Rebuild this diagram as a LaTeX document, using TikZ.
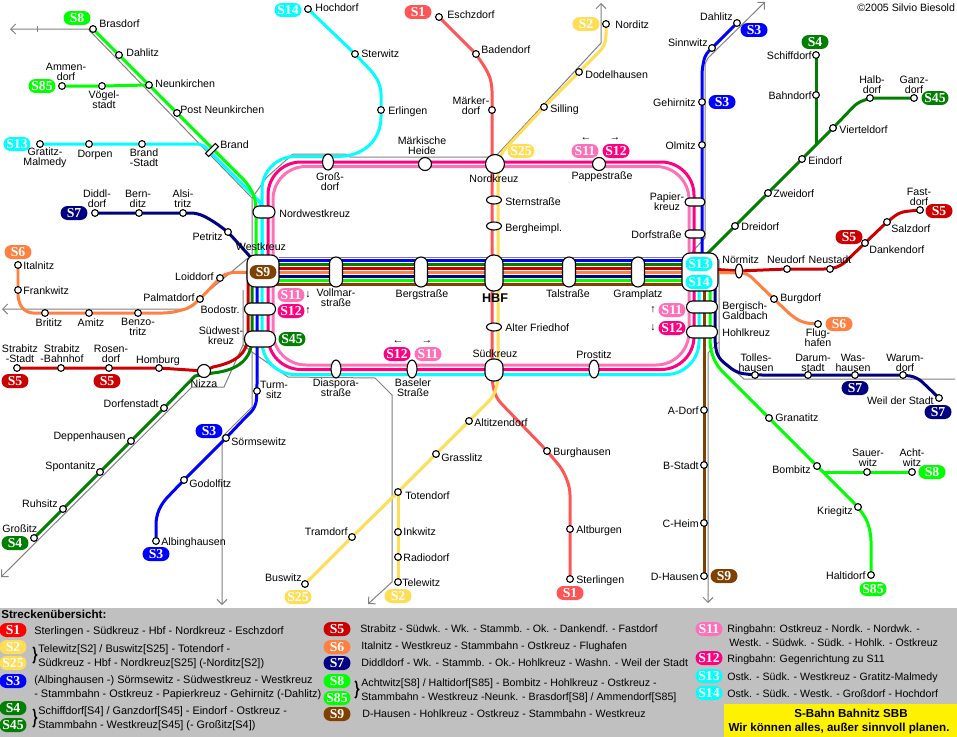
\documentclass[tikz,border=0pt]{standalone}
\usepackage{fontspec}
\setmainfont{Liberation Sans}
\newfontfamily\pillfont{Liberation Serif}
\usepackage{tikz}
\usetikzlibrary{arrows.meta,backgrounds,decorations.pathreplacing,shapes.geometric}
\definecolor{colS1}{HTML}{FF5555}
\definecolor{colS1key}{HTML}{FF0000}
\definecolor{colS2}{HTML}{FFDD55}
\definecolor{colS3}{HTML}{0000FF}
\definecolor{colS4}{HTML}{007F00}
\definecolor{colS5}{HTML}{CC0000}
\definecolor{colS6}{HTML}{FF8040}
\definecolor{colS7}{HTML}{000080}
\definecolor{colS8}{HTML}{00FF00}
\definecolor{colS9}{HTML}{804000}
\definecolor{colS11}{HTML}{FF70B8}
\definecolor{colS12}{HTML}{FF0080}
\definecolor{colS13}{HTML}{00FFFF}
\definecolor{colZone}{HTML}{808080}
\definecolor{colPanel}{HTML}{C0C0C0}
\tikzset{
  bahn/.style={line width=0.06cm,line join=round},
  zone/.style={line width=0.02cm,draw=colZone,>={Straight Barb[length=0.1cm,width=0.2cm]}},
  stn/.style={circle,draw=black,fill=white,line width=0.022cm,minimum size=0.135cm,inner sep=0pt},
  stnbig/.style={stn,minimum size=0.26cm},
  stnoval/.style={ellipse,draw=black,fill=white,line width=0.022cm,inner sep=0pt},
  stnbox/.style={rectangle,draw=black,fill=white,line width=0.022cm,inner sep=0pt},
  stnname/.style={inner sep=0pt,font=\fontsize{6.05}{5.7}\selectfont},
  stnnames/.style={stnname,align=center},
  keyname/.style={inner sep=0pt,font=\fontsize{6.2}{7}\selectfont},
  boldname/.style={inner sep=0pt,font=\fontsize{6.6}{7}\selectfont\bfseries},
  pill/.style={rectangle,rounded corners=0.14cm,minimum width=0.54cm,minimum height=0.28cm,inner sep=0pt,text=white,font=\fontsize{7.8}{8}\selectfont\pillfont\bfseries}
}
\begin{document}
\begin{tikzpicture}[x=0.02cm,y=-0.02cm]
\useasboundingbox (0,0) rectangle (957,737);
\node[stn] (brasdorf) at (93,29) {};
\node[stnname,anchor=base west] (brasdorftxt) at (99,28) {Brasdorf};
\node[stn] (dahlitz) at (119,55) {};
\node[stnname,anchor=base west] (dahlitztxt) at (126,56) {Dahlitz};
\node[stn] (neunkirchen) at (149,85) {};
\node[stnname,anchor=base west] (neunkirchentxt) at (155,87) {Neunkirchen};
\node[stn] (postneun) at (177,113) {};
\node[stnname,anchor=base west] (postneuntxt) at (180,113) {Post Neunkirchen};
\node[stnbox,rotate=45,minimum width=0.28cm,minimum height=0.09cm] (brand) at (212,150) {};
\node[stnname,anchor=base west] (brandtxt) at (220,148) {Brand};
\node[stn] (ammendorf) at (62,86) {};
\node[stnnames] (ammendorftxt) at (66,72) {Ammen-\\dorf};
\node[stn] (voegelstadt) at (102,86) {};
\node[stnnames] (voegelstadttxt) at (104,100) {Vögel-\\stadt};
\node[stn] (gratitz) at (40,144) {};
\node[stnnames] (gratitztxt) at (45,158) {Gratitz-\\Malmedy};
\node[stn] (dorpen) at (89,144) {};
\node[stnname,anchor=base] (dorpentxt) at (95,157) {Dorpen};
\node[stn] (brandstadt) at (142,144) {};
\node[stnnames] (brandstadttxt) at (144,158) {Brand\\-Stadt};
\node[stn] (diddldorf) at (95,213) {};
\node[stnnames] (diddldorftxt) at (97,199) {Diddl-\\dorf};
\node[stn] (bernditz) at (139,213) {};
\node[stnnames] (bernditztxt) at (138,199) {Bern-\\ditz};
\node[stn] (alsitritz) at (183,213) {};
\node[stnnames] (alsitritztxt) at (183,199) {Alsi-\\tritz};
\node[stn] (petritz) at (228,232) {};
\node[stnname,anchor=base east] (petritztxt) at (223,240) {Petritz};
\node[stn] (hochdorf) at (308,9) {};
\node[stnname,anchor=base west] (hochdorftxt) at (315,11) {Hochdorf};
\node[stn] (sterwitz) at (355,54) {};
\node[stnname,anchor=base west] (sterwitztxt) at (361,57) {Sterwitz};
\node[stn] (erlingen) at (381,110) {};
\node[stnname,anchor=base west] (erlingentxt) at (388,114) {Erlingen};
\node[stn] (eschzdorf) at (439,17) {};
\node[stnname,anchor=base west] (eschzdorftxt) at (447,18) {Eschzdorf};
\node[stn] (badendorf) at (476,54) {};
\node[stnname,anchor=base west] (badendorftxt) at (481,53) {Badendorf};
\node[stn] (maerkerdorf) at (492,110) {};
\node[stnnames] (maerkerdorftxt) at (471,106) {Märker-\\dorf};
\node[stn] (norditz) at (606,24) {};
\node[stnname,anchor=base west] (norditztxt) at (615,29) {Norditz};
\node[stn] (dodelhausen) at (579,72) {};
\node[stnname,anchor=base west] (dodelhausentxt) at (585,78) {Dodelhausen};
\node[stn] (silling) at (544,107) {};
\node[stnname,anchor=base west] (sillingtxt) at (550,112) {Silling};
\node[stnoval,minimum width=0.22cm,minimum height=0.32cm] (grossdorf) at (328,162) {};
\node[stnnames] (grossdorftxt) at (330,182) {Groß-\\dorf};
\node[stnbig] (maerkheide) at (425,164) {};
\node[stnnames] (maerkheidetxt) at (422,146) {Märkische\\Heide};
\node[stnbig,minimum size=0.38cm] (nordkreuz) at (495,164) {};
\node[stnname,anchor=base] (nordkreuztxt) at (494,182) {Nordkreuz};
\node[stnbig] (pappestr) at (599,164) {};
\node[stnname,anchor=base] (pappestrtxt) at (602,179) {Pappestraße};
\node[stnoval,minimum width=0.3cm,minimum height=0.16cm] (sternstr) at (494,200) {};
\node[stnname,anchor=base west] (sternstrtxt) at (505,205) {Sternstraße};
\node[stnoval,minimum width=0.3cm,minimum height=0.16cm] (bergheimpl) at (494,226) {};
\node[stnname,anchor=base west] (bergheimpltxt) at (505,231) {Bergheimpl.};
\node[stnbox,rounded corners=0.12cm,minimum width=0.44cm,minimum height=0.24cm] (nordwestkreuz) at (264,212) {};
\node[stnname,anchor=base west] (nordwestkreuztxt) at (279,217) {Nordwestkreuz};
\node[stnbox,rounded corners=0.16cm,minimum width=0.64cm,minimum height=0.64cm] (westkreuz) at (263,271) {};
\node[stnname,anchor=base] (westkreuztxt) at (261,250) {Westkreuz};
\node[stnbox,rounded corners=0.16cm,minimum width=0.72cm,minimum height=0.76cm] (ostkreuz) at (700,272) {};
\node[stnbox,rounded corners=0.13cm,minimum width=0.26cm,minimum height=0.6cm] (vollmarstr) at (336,272) {};
\node[stnnames] (vollmarstrtxt) at (336,298) {Vollmar-\\straße};
\node[stnbox,rounded corners=0.13cm,minimum width=0.26cm,minimum height=0.6cm] (bergstr) at (421,272) {};
\node[stnname,anchor=base] (bergstrtxt) at (422,297) {Bergstraße};
\node[stnbox,rounded corners=0.17cm,minimum width=0.36cm,minimum height=0.72cm] (hbf) at (494,273) {};
\node[boldname,font=\fontsize{7.2}{8}\selectfont\bfseries,anchor=base] (hbftxt) at (495,302) {HBF};
\node[stnbox,rounded corners=0.13cm,minimum width=0.26cm,minimum height=0.6cm] (talstr) at (569,272) {};
\node[stnname,anchor=base] (talstrtxt) at (568,297) {Talstraße};
\node[stnbox,rounded corners=0.13cm,minimum width=0.26cm,minimum height=0.6cm] (gramplatz) at (638,272) {};
\node[stnname,anchor=base] (gramplatztxt) at (638,297) {Gramplatz};
\node[stnoval,minimum width=0.3cm,minimum height=0.16cm] (friedhof) at (494,327) {};
\node[stnname,anchor=base west] (friedhoftxt) at (505,331) {Alter Friedhof};
\node[stnbox,rounded corners=0.16cm,minimum width=0.36cm,minimum height=0.44cm] (suedkreuz) at (494,370) {};
\node[stnname,anchor=base] (suedkreuztxt) at (495,357) {Südkreuz};
\node[stnoval,minimum width=0.2cm,minimum height=0.36cm] (prostitz) at (594,369) {};
\node[stnname,anchor=base] (prostitztxt) at (594,358) {Prostitz};
\node[stnoval,minimum width=0.2cm,minimum height=0.36cm] (baseler) at (412,369) {};
\node[stnnames] (baselertxt) at (413,388) {Baseler\\Straße};
\node[stnoval,minimum width=0.2cm,minimum height=0.36cm] (diaspora) at (336,369) {};
\node[stnnames] (diasporatxt) at (336,388) {Diaspora-\\straße};
\node[stnbox,rounded corners=0.12cm,minimum width=0.62cm,minimum height=0.24cm] (bodostr) at (260,309) {};
\node[stnname,anchor=base east] (bodostrtxt) at (240,313) {Bodostr.};
\node[stnbox,rounded corners=0.15cm,minimum width=0.62cm,minimum height=0.32cm] (suedwestkreuz) at (260,339) {};
\node[stnnames] (suedwestkreuztxt) at (221,336) {Südwest-\\kreuz};
\node[stnbox,rounded corners=0.12cm,minimum width=0.62cm,minimum height=0.24cm] (galdbach) at (702,307) {};
\node[stnname,align=left,anchor=west] (galdbachtxt) at (722,311) {Bergisch-\\Galdbach};
\node[stnbox,rounded corners=0.12cm,minimum width=0.62cm,minimum height=0.24cm] (hohlkreuz) at (702,332) {};
\node[stnname,anchor=base west] (hohlkreuztxt) at (722,336) {Hohlkreuz};
\node[stnbox,rounded corners=0.08cm,minimum width=0.4cm,minimum height=0.16cm] (papierkreuz) at (695,202) {};
\node[stnnames] (papierkreuztxt) at (667,202) {Papier-\\kreuz};
\node[stnbox,rounded corners=0.08cm,minimum width=0.4cm,minimum height=0.16cm] (dorfstr) at (695,234) {};
\node[stnname,anchor=base east] (dorfstrtxt) at (682,238) {Dorfstraße};
\node[stn] (italnitz) at (18,265) {};
\node[stnname,anchor=base west] (italnitztxt) at (23,269) {Italnitz};
\node[stn] (frankwitz) at (18,290) {};
\node[stnname,anchor=base west] (frankwitztxt) at (23,294) {Frankwitz};
\node[stn] (brititz) at (45,313) {};
\node[stnname,anchor=base] (brititztxt) at (49,326) {Brititz};
\node[stn] (amitz) at (89,313) {};
\node[stnname,anchor=base] (amitztxt) at (91,326) {Amitz};
\node[stn] (benzotritz) at (138,313) {};
\node[stnnames] (benzotritztxt) at (138,327) {Benzo-\\tritz};
\node[stn] (palmatdorf) at (200,299) {};
\node[stnname,anchor=base east] (palmatdorftxt) at (195,301) {Palmatdorf};
\node[stn] (loiddorf) at (220,278) {};
\node[stnname,anchor=base east] (loiddorftxt) at (214,280) {Loiddorf};
\node[stn] (strabitzstadt) at (17,368) {};
\node[stnnames] (strabitzstadttxt) at (20,354) {Strabitz\\-Stadt};
\node[stn] (strabitzbhf) at (61,368) {};
\node[stnnames] (strabitzbhftxt) at (62,354) {Strabitz\\-Bahnhof};
\node[stn] (rosendorf) at (109,368) {};
\node[stnnames] (rosendorftxt) at (111,354) {Rosen-\\dorf};
\node[stn] (homburg) at (159,368) {};
\node[stnname,anchor=base] (homburgtxt) at (158,363) {Homburg};
\node[stnbig] (nizza) at (204,371) {};
\node[stnname,anchor=base] (nizzatxt) at (204,387) {Nizza};
\node[stn] (dorfenstadt) at (164,408) {};
\node[stnname,anchor=base east] (dorfenstadttxt) at (159,407) {Dorfenstadt};
\node[stn] (deppenhausen) at (131,441) {};
\node[stnname,anchor=base east] (deppenhausentxt) at (126,439) {Deppenhausen};
\node[stn] (spontanitz) at (100,472) {};
\node[stnname,anchor=base east] (spontanitztxt) at (96,469) {Spontanitz};
\node[stn] (ruhsitz) at (63,509) {};
\node[stnname,anchor=base east] (ruhsitztxt) at (58,507) {Ruhsitz};
\node[stn] (grossitz) at (34,538) {};
\node[stnname,anchor=base west] (grossitztxt) at (2,532) {Großitz};
\node[stn] (turmsitz) at (257,391) {};
\node[stnnames] (turmsitztxt) at (274,390) {Turm-\\sitz};
\node[stn] (soermsewitz) at (226,438) {};
\node[stnname,anchor=base west] (soermsewitztxt) at (231,445) {Sörmsewitz};
\node[stn] (godolfitz) at (184,480) {};
\node[stnname,anchor=base west] (godolfitztxt) at (189,487) {Godolfitz};
\node[stn] (albinghausen) at (156,541) {};
\node[stnname,anchor=base west] (albinghausentxt) at (161,545) {Albinghausen};
\node[stn] (buswitz) at (305,584) {};
\node[stnname,anchor=base east] (buswitztxt) at (302,581) {Buswitz};
\node[stn] (tramdorf) at (352,537) {};
\node[stnname,anchor=base east] (tramdorftxt) at (348,535) {Tramdorf};
\node[stn] (totendorf) at (398,492) {};
\node[stnname,anchor=base west] (totendorftxt) at (405,499) {Totendorf};
\node[stn] (inkwitz) at (398,532) {};
\node[stnname,anchor=base west] (inkwitztxt) at (403,535) {Inkwitz};
\node[stn] (radiodorf) at (398,557) {};
\node[stnname,anchor=base west] (radiodorftxt) at (403,561) {Radiodorf};
\node[stn] (telewitz) at (398,582) {};
\node[stnname,anchor=base west] (telewitztxt) at (402,586) {Telewitz};
\node[stn] (altitzendorf) at (469,421) {};
\node[stnname,anchor=base west] (altitzendorftxt) at (474,426) {Altitzendorf};
\node[stn] (grasslitz) at (436,454) {};
\node[stnname,anchor=base west] (grasslitztxt) at (441,461) {Grasslitz};
\node[stn] (burghausen) at (547,451) {};
\node[stnname,anchor=base west] (burghausentxt) at (553,455) {Burghausen};
\node[stn] (altburgen) at (570,529) {};
\node[stnname,anchor=base west] (altburgentxt) at (576,533) {Altburgen};
\node[stn] (sterlingen) at (570,579) {};
\node[stnname,anchor=base west] (sterlingentxt) at (576,583) {Sterlingen};
\node[stn] (dahlitzost) at (737,23) {};
\node[stnname,anchor=base east] (dahlitzosttxt) at (733,20) {Dahlitz};
\node[stn] (sinnwitz) at (712,48) {};
\node[stnname,anchor=base east] (sinnwitztxt) at (708,47) {Sinnwitz};
\node[stn] (gehirnitz) at (702,102) {};
\node[stnname,anchor=base east] (gehirnitztxt) at (696,106) {Gehirnitz};
\node[stn] (olmitz) at (702,145) {};
\node[stnname,anchor=base east] (olmitztxt) at (696,149) {Olmitz};
\node[stn] (schiffdorf) at (816,55) {};
\node[stnname,anchor=base east] (schiffdorftxt) at (812,59) {Schiffdorf};
\node[stn] (bahndorf) at (816,95) {};
\node[stnname,anchor=base east] (bahndorftxt) at (812,99) {Bahndorf};
\node[stn] (halbdorf) at (870,98) {};
\node[stnnames] (halbdorftxt) at (872,85) {Halb-\\dorf};
\node[stn] (ganzdorf) at (914,98) {};
\node[stnnames] (ganzdorftxt) at (914,85) {Ganz-\\dorf};
\node[stn] (vierteldorf) at (833,128) {};
\node[stnname,anchor=base west] (vierteldorftxt) at (839,133) {Vierteldorf};
\node[stn] (eindorf) at (802,159) {};
\node[stnname,anchor=base west] (eindorftxt) at (808,164) {Eindorf};
\node[stn] (zweidorf) at (768,193) {};
\node[stnname,anchor=base west] (zweidorftxt) at (773,197) {Zweidorf};
\node[stn] (dreidorf) at (735,226) {};
\node[stnname,anchor=base west] (dreidorftxt) at (741,230) {Dreidorf};
\node[stn] (fastdorf) at (920,210) {};
\node[stnnames] (fastdorftxt) at (919,197) {Fast-\\dorf};
\node[stn] (salzdorf) at (887,222) {};
\node[stnname,anchor=base west] (salzdorftxt) at (891,232) {Salzdorf};
\node[stn] (dankendorf) at (865,243) {};
\node[stnname,anchor=base west] (dankendorftxt) at (869,253) {Dankendorf};
\node[stnoval,minimum width=0.14cm,minimum height=0.28cm] (noermitz) at (739,271) {};
\node[stnname,anchor=base west] (noermitztxt) at (722,263) {Nörmitz};
\node[stn] (neudorf) at (787,269) {};
\node[stnname,anchor=base] (neudorftxt) at (786,263) {Neudorf};
\node[stn] (neustadt) at (830,269) {};
\node[stnname,anchor=base] (neustadttxt) at (830,263) {Neustadt};
\node[stn] (burgdorf) at (774,299) {};
\node[stnname,anchor=base west] (burgdorftxt) at (780,301) {Burgdorf};
\node[stn] (flughafen) at (818,324) {};
\node[stnnames] (flughafentxt) at (818,338) {Flug-\\hafen};
\node[stn] (tolleshausen) at (755,375) {};
\node[stnnames] (tolleshausentxt) at (756,363) {Tolles-\\hausen};
\node[stn] (darumstadt) at (808,375) {};
\node[stnnames] (darumstadttxt) at (813,363) {Darum-\\stadt};
\node[stn] (washausen) at (855,375) {};
\node[stnnames] (washausentxt) at (853,363) {Was-\\hausen};
\node[stn] (warumdorf) at (903,375) {};
\node[stnnames] (warumdorftxt) at (905,363) {Warum-\\dorf};
\node[stn] (weilstadt) at (939,398) {};
\node[stnname,anchor=base east] (weilstadttxt) at (934,404) {Weil der Stadt};
\node[stn] (adorf) at (704,410) {};
\node[stnname,anchor=base east] (adorftxt) at (699,414) {A-Dorf};
\node[stn] (bstadt) at (704,465) {};
\node[stnname,anchor=base east] (bstadttxt) at (699,469) {B-Stadt};
\node[stn] (cheim) at (704,523) {};
\node[stnname,anchor=base east] (cheimtxt) at (699,527) {C-Heim};
\node[stn] (dhausen) at (704,576) {};
\node[stnname,anchor=base east] (dhausentxt) at (699,580) {D-Hausen};
\node[stn] (granatitz) at (769,418) {};
\node[stnname,anchor=base west] (granatitztxt) at (775,421) {Granatitz};
\node[stn] (bombitz) at (817,466) {};
\node[stnname,anchor=base east] (bombitztxt) at (811,473) {Bombitz};
\node[stn] (kriegitz) at (858,507) {};
\node[stnname,anchor=base east] (kriegitztxt) at (853,514) {Kriegitz};
\node[stn] (haltidorf) at (871,575) {};
\node[stnname,anchor=base east] (haltidorftxt) at (866,579) {Haltidorf};
\node[stn] (sauerwitz) at (867,472) {};
\node[stnnames] (sauerwitztxt) at (868,458) {Sauer-\\witz};
\node[stn] (achtwitz) at (912,472) {};
\node[stnnames] (achtwitztxt) at (912,458) {Acht-\\witz};
\node[stnname,anchor=base west] (copyrighttxt) at (857,11) {©2005 Silvio Biesold};
\coordinate (ringnwa) at (273,166.5);
\coordinate (ringsea) at (689,365);
\coordinate (ringnwb) at (268,162);
\coordinate (ringseb) at (694,369.5);
\coordinate (dreieck) at (700,261);
\coordinate (schiffjoint) at (816,145);
\coordinate (achtjoint) at (823,472);
\begin{pgfonlayer}{background}
\fill[colPanel] (0,608) rectangle (957,737);
\fill[yellow] (724,704) rectangle (957,737);
\draw[zone,<-] (10,29) -- (88,29) -- (252,198) -- (252,255);
\draw[zone] (37,26) -- (37,32);
\draw[zone,->] (252,198) -- (267,177) -- (293,154) -- (345,154) -- (350,157) -- (495,157) -- (601,43) -- (601,3);
\draw[zone,<-] (765,2) -- (708,58) -- (705,64) -- (705,238) -- (692,252) -- (710,253) -- (719,260) -- (719,357) -- (744,379) -- (955,379);
\draw[zone,->] (719,342) -- (708,353) -- (708,603);
\draw[zone,<-] (2,309) -- (187,309) -- (248,258);
\draw[zone] (279,257) -- (682,257);
\draw[zone,->] (243,290) -- (243,345) -- (224,387) -- (192,387) -- (1,577);
\draw[zone,->] (243,345) -- (252,352) -- (288,377) -- (375,378) -- (392,395) -- (392,582) -- (368,604);
\draw[zone,->] (252,352) -- (252,407) -- (222,437) -- (222,605);
\foreach \col/\yy in {colS3/260.7,colS4/264.3,colS5/268.3,colS6/272.3,colS7/276.3,colS8/280.3,colS9/284.3}
  \draw[bahn,\col] (westkreuz.center |- 0,\yy) -- (ostkreuz.center |- 0,\yy);
\draw[bahn,colS11,rounded corners=0.66cm] (ringnwa) rectangle (ringsea);
\draw[bahn,colS12,rounded corners=0.66cm] (ringnwb) rectangle (ringseb);
\draw[bahn,colS13,rounded corners=0.14cm] (hochdorf.center) -- (sterwitz.center) -- (375,75) -- (381,87) -- (erlingen.center) .. controls (381,135) and (370,150) .. (345,156.5) [rounded corners=0.66cm] -- (262,156.5) -- (262,374.5) -- (699,374.5) -- (ostkreuz.center -| 699,0);
\draw[bahn,colS13,rounded corners=0.1cm] (gratitz.center) -- (dorpen.center) -- (brandstadt.center) -- (202,144) -- (262,204) -- (westkreuz.center -| 262,0);
\draw[bahn,colS8,rounded corners=0.12cm] (brasdorf.center) -- (dahlitz.center) -- (neunkirchen.center) -- (postneun.center) -- (247,183) -- (255,197) -- (256,212) -- (westkreuz.center -| 256,0);
\draw[bahn,colS8] (ammendorf.center) -- (voegelstadt.center) -- (neunkirchen.center);
\draw[bahn,colS7,rounded corners=0.14cm] (diddldorf.center) -- (bernditz.center) -- (alsitritz.center) -- (198,213) -- (213,221) -- (petritz.center) -- (westkreuz.center);
\draw[bahn,colS6,rounded corners=0.14cm] (italnitz.center) -- (frankwitz.center) -- (18,302) -- (26,313) -- (brititz.center) -- (amitz.center) -- (benzotritz.center) -- (170,313) -- (190,308) -- (palmatdorf.center) -- (loiddorf.center) -- (228,272.3) -- (westkreuz.center |- 0,272.3);
\draw[bahn,colS5] (strabitzstadt.center) -- (strabitzbhf.center) -- (rosendorf.center) -- (homburg.center) -- (nizza.center) -- (213,367) .. controls (238,362) and (248,352) .. (248,335) -- (westkreuz.center -| 248,0);
\draw[bahn,colS4] (grossitz.center) -- (ruhsitz.center) -- (spontanitz.center) -- (deppenhausen.center) -- (dorfenstadt.center) -- (195,376) -- (213,373) .. controls (240,370) and (251,358) .. (252,340) -- (westkreuz.center -| 252,0);
\draw[bahn,colS3,rounded corners=0.14cm] (albinghausen.center) -- (156,517) -- (162,503) -- (godolfitz.center) -- (soermsewitz.center) -- (243,420) -- (256,407) -- (turmsitz.center) -- (westkreuz.center -| 257,0);
\draw[bahn,colS3,rounded corners=0.1cm] (dahlitzost.center) -- (sinnwitz.center) -- (705,55) -- (702,70) -- (gehirnitz.center) -- (olmitz.center) -- (ostkreuz.center -| 702,0);
\draw[bahn,colS1,rounded corners=0.14cm] (eschzdorf.center) -- (badendorf.center) -- (488,72) -- (492,84) -- (maerkerdorf.center) -- (492,382) -- (496,398) -- (burghausen.center) -- (563,470) -- (570,488) -- (altburgen.center) -- (sterlingen.center);
\draw[bahn,colS2,rounded corners=0.1cm] (norditz.center) -- (606,40) -- (603,48) -- (dodelhausen.center) -- (silling.center) -- (502,152) -- (498,165) -- (498,382) -- (493,397) -- (altitzendorf.center) -- (grasslitz.center) -- (totendorf.center) -- (tramdorf.center) -- (buswitz.center);
\draw[bahn,colS2] (totendorf.center) -- (inkwitz.center) -- (radiodorf.center) -- (telewitz.center);
\draw[bahn,colS4,rounded corners=0.1cm] (dreieck) -- (dreidorf.center) -- (zweidorf.center) -- (eindorf.center) -- (vierteldorf.center) -- (857,103) -- (halbdorf.center) -- (ganzdorf.center);
\draw[bahn,colS4] (schiffdorf.center) -- (bahndorf.center) -- (schiffjoint);
\draw[bahn,colS5,rounded corners=0.12cm] (ostkreuz.center |- 0,268.3) -- (noermitz.center) -- (neudorf.center) -- (neustadt.center) -- (841,266) -- (dankendorf.center) -- (salzdorf.center) -- (900,212) -- (fastdorf.center);
\draw[bahn,colS6,rounded corners=0.12cm] (ostkreuz.center |- 0,272.3) -- (747,273) -- (burgdorf.center) -- (793,317) -- (804,323) -- (flughafen.center);
\draw[bahn,colS7,rounded corners=0.14cm] (ostkreuz.center -| 715,0) -- (715,345) -- (718,358) -- (737,373) -- (tolleshausen.center) -- (darumstadt.center) -- (washausen.center) -- (warumdorf.center) -- (917,377) -- (weilstadt.center);
\draw[bahn,colS8,rounded corners=0.12cm] (ostkreuz.center -| 710,0) -- (710,345) -- (712,355) -- (718,367) -- (granatitz.center) -- (bombitz.center) -- (kriegitz.center) -- (867,520) -- (871,535) -- (haltidorf.center);
\draw[bahn,colS8] (achtjoint) -- (sauerwitz.center) -- (achtwitz.center);
\draw[bahn,colS9] (ostkreuz.center -| 704,0) -- (adorf.center) -- (bstadt.center) -- (cheim.center) -- (dhausen.center);
\end{pgfonlayer}
\node[pill,fill=colS8] (s8nord) at (77,18) {S8};
\node[pill,fill=colS8] (s85west) at (42,86) {S85};
\node[pill,fill=colS13] (s13west) at (17,144) {S13};
\node[pill,fill=colS13] (s14nord) at (288,10) {S14};
\node[pill,fill=colS7] (s7west) at (74,213) {S7};
\node[pill,fill=colS6] (s6west) at (18,252) {S6};
\node[pill,fill=colS5] (s5westa) at (15,381) {S5};
\node[pill,fill=colS5] (s5westb) at (107,381) {S5};
\node[pill,fill=colS9] (s9west) at (263,272) {S9};
\node[pill,fill=colS11] (s11west) at (291,295) {S11};
\node[pill,fill=colS12] (s12west) at (291,311) {S12};
\node[pill,fill=colS4] (s45west) at (292,339) {S45};
\node[pill,fill=colS4] (s4sued) at (15,543) {S4};
\node[pill,fill=colS3] (s3sueda) at (209,431) {S3};
\node[pill,fill=colS3] (s3suedb) at (156,554) {S3};
\node[pill,fill=colS2] (s25sued) at (298,597) {S25};
\node[pill,fill=colS2] (s2sued) at (398,596) {S2};
\node[pill,fill=colS1] (s1sued) at (570,593) {S1};
\node[pill,fill=colS1] (s1nord) at (418,12) {S1};
\node[pill,fill=colS2] (s2nord) at (586,24) {S2};
\node[pill,fill=colS2] (s25nord) at (521,151) {S25};
\node[pill,fill=colS11] (s11nord) at (585,151) {S11};
\node[pill,fill=colS12] (s12nord) at (616,151) {S12};
\node[pill,fill=colS12] (s12sued) at (397,354) {S12};
\node[pill,fill=colS11] (s11sued) at (428,354) {S11};
\node[pill,fill=colS13] (s13ost) at (699,264) {S13};
\node[pill,fill=colS13] (s14ost) at (699,282) {S14};
\node[pill,fill=colS11] (s11ost) at (672,310) {S11};
\node[pill,fill=colS12] (s12ost) at (672,328) {S12};
\node[pill,fill=colS3] (s3nord) at (754,30) {S3};
\node[pill,fill=colS3] (s3ost) at (722,102) {S3};
\node[pill,fill=colS4] (s4nord) at (815,42) {S4};
\node[pill,fill=colS4] (s45nord) at (935,98) {S45};
\node[pill,fill=colS5] (s5osta) at (849,237) {S5};
\node[pill,fill=colS5] (s5ostb) at (939,211) {S5};
\node[pill,fill=colS6] (s6ost) at (839,324) {S6};
\node[pill,fill=colS7] (s7osta) at (855,388) {S7};
\node[pill,fill=colS7] (s7ostb) at (938,412) {S7};
\node[pill,fill=colS8] (s8ost) at (932,472) {S8};
\node[pill,fill=colS8] (s85ost) at (873,589) {S85};
\node[pill,fill=colS9] (s9ost) at (724,576) {S9};
\node[stnname] (pfeila) at (586,139) {←};
\node[stnname] (pfeilb) at (615,139) {→};
\node[stnname] (pfeilc) at (398,342) {←};
\node[stnname] (pfeild) at (427,342) {→};
\node[stnname] (pfeile) at (308,295) {↓};
\node[stnname] (pfeilf) at (308,311) {↑};
\node[stnname] (pfeilg) at (653,310) {↑};
\node[stnname] (pfeilh) at (653,328) {↓};
\node[boldname,anchor=base west] (keytitle) at (1,618) {Streckenübersicht:};
\node[pill,fill=colS1key] (keys1) at (13,630) {S1};
\node[pill,fill=colS2] (keys2) at (13,647) {S2};
\node[pill,fill=colS2] (keys25) at (13,663) {S25};
\node[pill,fill=colS3] (keys3) at (13,681) {S3};
\node[pill,fill=colS4] (keys4) at (13,708) {S4};
\node[pill,fill=colS4] (keys45) at (13,725) {S45};
\node[pill,fill=colS5] (keys5) at (337,629) {S5};
\node[pill,fill=colS6] (keys6) at (337,647) {S6};
\node[pill,fill=colS7] (keys7) at (337,663) {S7};
\node[pill,fill=colS8] (keys8) at (337,681) {S8};
\node[pill,fill=colS8] (keys85) at (337,698) {S85};
\node[pill,fill=colS9] (keys9) at (337,714) {S9};
\node[pill,fill=colS11] (keys11) at (709,629) {S11};
\node[pill,fill=colS12] (keys12) at (709,658) {S12};
\node[pill,fill=colS13] (keys13) at (709,676) {S13};
\node[pill,fill=colS13] (keys14) at (709,693) {S14};
\draw[line width=0.03cm,decorate,decoration={brace,amplitude=0.07cm}] (33,647) -- (33,663);
\draw[line width=0.03cm,decorate,decoration={brace,amplitude=0.07cm}] (33,709) -- (33,727);
\draw[line width=0.03cm,decorate,decoration={brace,amplitude=0.07cm}] (355,681) -- (355,698);
\node[keyname,anchor=base west] (keyt1) at (34,634) {Sterlingen - Südkreuz - Hbf - Nordkreuz - Eschzdorf};
\node[keyname,anchor=base west] (keyt2a) at (38,652) {Telewitz[S2] / Buswitz[S25] - Totendorf -};
\node[keyname,anchor=base west] (keyt2b) at (38,666) {Südkreuz - Hbf - Nordkreuz[S25] (-Norditz[S2])};
\node[keyname,anchor=base west] (keyt3a) at (34,683) {(Albinghausen -) Sörmsewitz - Südwestkreuz - Westkreuz};
\node[keyname,anchor=base west] (keyt3b) at (34,697) {- Stammbahn - Ostkreuz - Papierkreuz - Gehirnitz (-Dahlitz)};
\node[keyname,anchor=base west] (keyt4a) at (38,714) {Schiffdorf[S4] / Ganzdorf[S45] - Eindorf - Ostkreuz -};
\node[keyname,anchor=base west] (keyt4b) at (38,728) {Stammbahn - Westkreuz[S45] (- Großitz[S4])};
\node[stnname,anchor=base west] (keyt5) at (360,632) {Strabitz - Südwk. - Wk. - Stammb. - Ok. - Dankendf. - Fastdorf};
\node[stnname,anchor=base west] (keyt6) at (361,649) {Italnitz - Westkreuz - Stammbahn - Ostkreuz - Flughafen};
\node[stnname,anchor=base west] (keyt7) at (361,666) {Diddldorf - Wk. - Stammb. - Ok.- Hohlkreuz - Washn. - Weil der Stadt};
\node[stnname,anchor=base west] (keyt8a) at (361,686) {Achtwitz[S8] / Haltidorf[S85] - Bombitz - Hohlkreuz - Ostkreuz -};
\node[stnname,anchor=base west] (keyt8b) at (361,700) {Stammbahn - Westkreuz -Neunk. - Brasdorf[S8] / Ammendorf[S85]};
\node[stnname,anchor=base west] (keyt9) at (362,717) {D-Hausen - Hohlkreuz - Ostkreuz - Stammbahn - Westkreuz};
\node[stnname,anchor=base west] (keyt11a) at (727,632) {Ringbahn: Ostkreuz - Nordk. - Nordwk. -};
\node[stnname,anchor=base west] (keyt11b) at (729,646) {Westk. - Südwk. - Südk. - Hohlk. - Ostkreuz};
\node[stnname,anchor=base west] (keyt12) at (727,662) {Ringbahn: Gegenrichtung zu S11};
\node[stnname,anchor=base west] (keyt13) at (727,680) {Ostk. - Südk. - Westkreuz - Gratitz-Malmedy};
\node[stnname,anchor=base west] (keyt14) at (727,697) {Ostk. - Südk. - Westk. - Großdorf - Hochdorf};
\node[boldname,anchor=base] (plana) at (851,717) {S-Bahn Bahnitz SBB};
\node[boldname,anchor=base] (planb) at (839,731) {Wir können alles, außer sinnvoll planen.};
\end{tikzpicture}
\end{document}
